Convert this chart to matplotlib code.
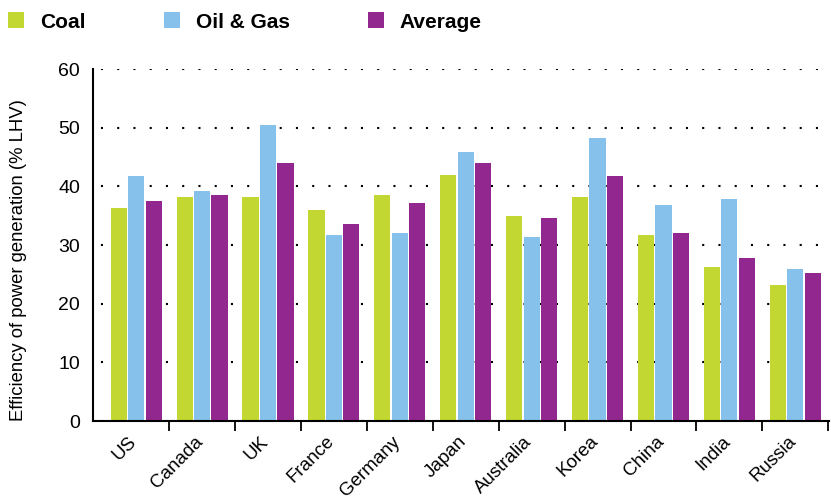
import matplotlib
matplotlib.use("Agg")
import matplotlib.pyplot as plt
import matplotlib.transforms as mtransforms
import numpy as np
from matplotlib.patches import Patch

countries = ["US", "Canada", "UK", "France", "Germany", "Japan", "Australia",
             "Korea", "China", "India", "Russia"]
coal = [36.3, 38.2, 38.2, 36.0, 38.5, 41.9, 35.0, 38.2, 31.7, 26.3, 23.2]
oil_gas = [41.8, 39.2, 50.5, 31.7, 32.0, 45.9, 31.4, 48.2, 36.8, 37.8, 25.9]
average = [37.5, 38.5, 44.0, 33.6, 37.1, 44.0, 34.6, 41.8, 32.0, 27.8, 25.2]
series_names = ["Coal", "Oil & Gas", "Average"]
yticks = [0, 10, 20, 30, 40, 50, 60]

colors = ["#c2d731", "#85c1ea", "#92278f"]

plt.rcParams['font.family'] = ['Liberation Sans', 'DejaVu Sans']

fig = plt.figure(figsize=(8.31, 4.99), dpi=100)
ax = fig.add_axes([0.1115, 0.1563, 0.886, 0.7054])

x = np.arange(len(countries))
off = 0.265
w = 0.245
for i, (vals, c) in enumerate(zip([coal, oil_gas, average], colors)):
    ax.bar(x + (i - 1) * off, vals, width=w, color=c, zorder=2)

ax.set_xlim(-0.66, 10.51)
ax.set_ylim(0, 60)
ax.set_yticks(yticks)
ax.set_yticklabels([str(t) for t in yticks], fontsize=14)
ax.tick_params(axis='y', length=0, pad=9)

ax.set_xticks(x)
ax.set_xticklabels(countries, rotation=45, ha='right', rotation_mode='anchor', fontsize=13.5)
ax.set_xticks(np.arange(0.5, len(countries), 1.0), minor=True)
ax.tick_params(axis='x', which='major', length=0, pad=10)
ax.tick_params(axis='x', which='minor', length=7, width=1.3, direction='out')
shift = mtransforms.ScaledTranslation(-8 / 100, 2 / 100, fig.dpi_scale_trans)
for lab in ax.get_xticklabels():
    lab.set_transform(lab.get_transform() + shift)

for s in ['top', 'right']:
    ax.spines[s].set_visible(False)
for s in ['left', 'bottom']:
    ax.spines[s].set_linewidth(1.5)
    ax.spines[s].set_zorder(3)

ax.set_axisbelow(True)
ax.yaxis.grid(True, linestyle=(4, (1, 6.8)), linewidth=1.5, color='black')

ax.set_ylabel("Efficiency of power generation (% LHV)", fontsize=13.3)
ax.yaxis.set_label_coords(-0.089, 0.458)

handles = [Patch(facecolor=c, edgecolor='none') for c in colors]
fig.legend(handles, series_names, loc='center left',
           bbox_to_anchor=(8 / 831, 1 - 22 / 499),
           ncol=3, frameon=False, handlelength=0.77, handleheight=0.77,
           handletextpad=0.77, columnspacing=3.74, borderaxespad=0, borderpad=0,
           prop={'weight': 'bold', 'size': 15})

fig.savefig("out.png", dpi=100)
